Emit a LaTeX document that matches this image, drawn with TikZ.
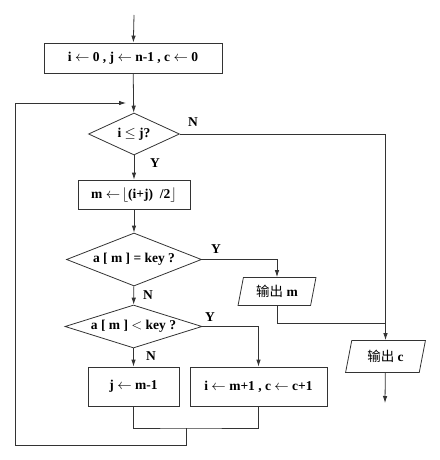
\documentclass[tikz,border=0pt]{standalone}
\usepackage{fontspec}
\setmainfont{Liberation Serif}
\newfontfamily\cjk{Noto Sans CJK SC}
\usetikzlibrary{shapes.geometric,arrows.meta}
\tikzset{
  box/.style={draw,inner sep=0pt,minimum height=#1},
  box/.default=30,
  test/.style={draw,diamond,inner sep=0pt,aspect=#1},
  io/.style={draw,trapezium,trapezium left angle=75,trapezium right angle=105,
    trapezium stretches=true,inner sep=0pt},
  yn/.style={inner sep=0pt}
}
\begin{document}
\begin{tikzpicture}[x=1pt,y=-1pt,line width=.8pt,draw=black!80,
  font=\bfseries\fontsize{13.5}{15}\selectfont,>={Latex[length=7pt,width=4.5pt]}]
\useasboundingbox (0,0) rectangle (439,460);
\coordinate (start) at (134,15);
\node[box,minimum width=178] (init) at (133,58) {i $\leftarrow$ 0 , j $\leftarrow$ n-1 , c $\leftarrow$ 0};
\node[test=2.2,minimum width=91,minimum height=42] (d1) at (134,134) {i $\le$ j?};
\node[box=29,minimum width=112] (mid) at (134,194.5) {m $\leftarrow\!\bigl\lfloor$(i+j)\ \ /2$\bigr\rfloor$};
\node[test=2.55,minimum width=135,minimum height=53] (d2) at (134,259.5) {a [ m ] = key ?};
\node[test=3.2,minimum width=137,minimum height=43] (d3) at (133.5,326.5) {a [ m ] $<$ key ?};
\node[box=39,minimum width=91] (bj) at (133.5,386.5) {j $\leftarrow$ m-1};
\node[box=39,minimum width=137] (bi) at (258.5,386.5) {i $\leftarrow$ m+1 , c $\leftarrow$ c+1};
\node[io,minimum width=78,minimum height=28] (outm) at (277,291.5) {{\cjk\mdseries 输出} m};
\node[io,minimum width=80,minimum height=32] (outc) at (385.5,356.5) {{\cjk\mdseries 输出}\ c};
\node[yn] (n1) at (193,122) {N};\node[yn] (y1) at (155,163) {Y};
\node[yn] (y2) at (216,249) {Y};\node[yn] (n2) at (148,295) {N};
\node[yn] (y3) at (210,317) {Y};\node[yn] (n3) at (151,356) {N};
\coordinate (join) at (186,428);\coordinate (back) at (186,445);
\coordinate (left) at (15,103);\coordinate (enter) at (126,103);
\coordinate (mjoin) at (385,323);\coordinate (stop) at (385,403);
\draw[->](start)--(init);\draw[->](init)--(d1);\draw[->](d1)--(mid);
\draw[->](mid)--(d2);\draw[->](d2)--(d3);\draw[->](d3)--(bj);
\draw[->](d2.east)-|(outm);\draw[->](d3.east)-|(bi);
\draw[->](d1.east)-|(outc);\draw(outm)|-(mjoin);\draw[->](outc)--(stop);
\draw(bj)|-(join)-|(bi);
\draw[->](join)--(back)-|(left)--(enter);
\end{tikzpicture}
\end{document}
